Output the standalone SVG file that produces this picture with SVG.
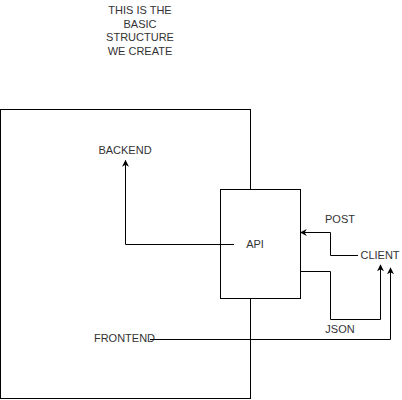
<svg xmlns="http://www.w3.org/2000/svg" width="402" height="400" viewBox="0 0 402 400">
<defs>
<style>
.box{fill:#fff;stroke:#000;stroke-width:1}
.lbl{font-family:"Liberation Sans",Arial,sans-serif;font-size:11px;fill:#333;text-anchor:middle}
.edge{fill:none;stroke:#000;stroke-width:1}
</style>
<marker id="arr" viewBox="0 0 10 10" refX="9" refY="5" markerWidth="7" markerHeight="7" markerUnits="userSpaceOnUse" orient="auto">
<path d="M0,0 L10,5 L0,10 L3,5 Z" fill="#000"/>
</marker>
</defs>
<rect width="402" height="400" fill="#fff"/>
<g id="title">
<text class="lbl" x="140" y="14">THIS IS THE</text>
<text class="lbl" x="140" y="27.5">BASIC</text>
<text class="lbl" x="140" y="41">STRUCTURE</text>
<text class="lbl" x="140" y="54.5">WE CREATE</text>
</g>
<g id="container">
<rect class="box" x="0.5" y="109.5" width="250" height="289"/>
</g>
<g id="backend"><text class="lbl" x="125" y="154">BACKEND</text></g>
<g id="frontend"><text class="lbl" x="124.5" y="342">FRONTEND</text></g>
<g id="api">
<rect class="box" x="220.5" y="189.5" width="80" height="109"/>
<text class="lbl" x="255" y="247.5">API</text>
</g>
<g id="client"><text class="lbl" x="380" y="259">CLIENT</text></g>
<g id="labels">
<text class="lbl" x="340" y="223">POST</text>
<text class="lbl" x="340" y="333">JSON</text>
</g>
<g id="connectors">
<path class="edge" d="M234,244.5 H125.5 V160.5" marker-end="url(#arr)"/>
<path class="edge" d="M358,255.5 H330.5 V232.5 H300.5" marker-end="url(#arr)"/>
<path class="edge" d="M300.5,271.5 H330.5 V319.5 H380.5 V265" marker-end="url(#arr)"/>
<path class="edge" d="M150,339.5 H390.5 V268" marker-end="url(#arr)"/>
</g>
</svg>
